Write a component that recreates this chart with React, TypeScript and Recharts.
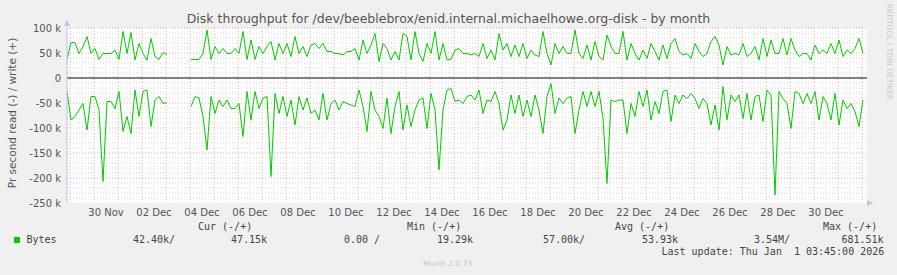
import { LineChart, Line, XAxis, YAxis, CartesianGrid, ReferenceLine } from 'recharts';

// Munin "disk throughput - by month" for /dev/beeblebrox/enid
// one sample per 4h, values in kB/s. read is drawn below zero (munin -/+ style)

const TITLE = 'Disk throughput for /dev/beeblebrox/enid.internal.michaelhowe.org-disk - by month';

// days relative to 30 Nov 00:00
const START_DAY = -1.125;
const STEP_DAY = 1 / 6;
const DOMAIN: [number, number] = [-1.125, 32.208];

const DAY_LABELS = [
  '30 Nov', '02 Dec', '04 Dec', '06 Dec', '08 Dec', '10 Dec', '12 Dec', '14 Dec',
  '16 Dec', '18 Dec', '20 Dec', '22 Dec', '24 Dec', '26 Dec', '28 Dec', '30 Dec',
];
// each label sits at noon of its day
const LABEL_DAYS = [0.5, 2.5, 4.5, 6.5, 8.5, 10.5, 12.5, 14.5, 16.5, 18.5, 20.5, 22.5, 24.5, 26.5, 28.5, 30.5];

const Y_TICKS = [-250, -200, -150, -100, -50, 0, 50, 100];

const writeK: (number | null)[] = [
  37, 71, 71, 49, 63, 83, 49, 59, 37, 49,
  49, 49, 56, 37, 93, 49, 91, 36, 69, 49,
  36, 79, 43, 37, 51, 47, null, null, null, null,
  null, 37, 37, 37, 49, 96, 37, 63, 49, 59,
  49, 49, 59, 49, 93, 37, 76, 37, 63, 49,
  63, 73, 36, 69, 49, 69, 43, 83, 49, 63,
  43, 66, 69, 59, 69, 53, 53, 49, 49, 46,
  53, 53, 59, 36, 76, 49, 66, 89, 33, 69,
  59, 36, 53, 36, 89, 83, 36, 93, 49, 33,
  69, 49, 93, 36, 69, 36, 37, 56, 59, 49,
  49, 46, 49, 43, 69, 39, 56, 36, 89, 56,
  69, 43, 66, 43, 69, 39, 56, 46, 43, 93,
  49, 26, 69, 49, 63, 49, 49, 96, 49, 39,
  66, 36, 73, 43, 36, 86, 63, 49, 49, 93,
  36, 69, 49, 36, 56, 39, 69, 53, 36, 66,
  39, 69, 79, 53, 46, 49, 39, 69, 53, 43,
  49, 73, 83, 66, 26, 63, 46, 49, 46, 69,
  43, 49, 63, 36, 79, 43, 76, 49, 49, 79,
  46, 79, 56, 43, 49, 49, 36, 66, 49, 56,
  49, 69, 49, 76, 43, 56, 49, 59, 79, 49,
];

const readK: (number | null)[] = [
  27, 84, 77, 64, 51, 104, 37, 37, 64, 207,
  47, 47, 61, 27, 107, 77, 111, 24, 77, 27,
  24, 97, 44, 37, 51, 49, null, null, null, null,
  null, 57, 37, 40, 77, 144, 37, 71, 44, 57,
  44, 61, 61, 51, 117, 27, 84, 27, 61, 40,
  37, 197, 31, 71, 37, 77, 44, 94, 37, 64,
  40, 71, 64, 84, 31, 84, 51, 44, 64, 47,
  51, 54, 57, 24, 57, 107, 27, 64, 77, 101,
  40, 111, 57, 27, 104, 54, 97, 64, 44, 40,
  101, 31, 64, 184, 64, 24, 21, 47, 44, 51,
  37, 34, 44, 24, 71, 44, 47, 27, 51, 104,
  84, 34, 71, 34, 77, 44, 77, 34, 64, 111,
  37, 11, 71, 40, 51, 40, 37, 111, 64, 27,
  57, 27, 57, 27, 81, 211, 44, 47, 44, 44,
  111, 51, 77, 27, 57, 24, 84, 47, 71, 27,
  24, 87, 34, 51, 34, 41, 31, 41, 61, 41,
  51, 94, 54, 104, 17, 84, 34, 47, 34, 81,
  31, 84, 37, 34, 87, 24, 34, 234, 27, 41,
  51, 101, 27, 31, 51, 31, 51, 27, 84, 37,
  51, 84, 31, 94, 44, 61, 51, 67, 97, 44,
];

const data = writeK.map((w, i) => ({
  t: START_DAY + i * STEP_DAY,
  write: w,
  read: readK[i] == null ? null : -(readK[i] as number),
}));

// grid positions (axis values, not data)
const majorDays: number[] = [];
const minorDays: number[] = [];
for (let d = -1; d <= 32; d++) {
  majorDays.push(d);
  minorDays.push(d + 0.5);
}
const majorK = [-200, -150, -100, -50, 50];
const minorK: number[] = [];
for (let v = -240; v < 100; v += 10) {
  if (v % 50 !== 0) minorK.push(v);
}

const GREEN = '#00cc00';
const AXIS_TEXT = '#555';
const MONO = '"DejaVu Sans Mono", monospace';
const SANS = '"DejaVu Sans", sans-serif';

function T({ x, y, children, style }: { x: number; y: number; children: any; style?: any }) {
  return (
    <div
      style={{
        position: 'absolute',
        left: x,
        top: y,
        transform: 'translateY(-50%)',
        lineHeight: 1,
        whiteSpace: 'pre',
        fontFamily: MONO,
        fontSize: 10,
        color: '#444',
        ...style,
      }}
    >
      {children}
    </div>
  );
}

export default function App() {
  return (
    <div style={{ position: 'absolute', left: 0, top: 0, width: 897, height: 275, background: '#f0f0f0', overflow: 'hidden' }}>
      <LineChart width={897} height={275} data={data} margin={{ top: 28, right: 30, left: 7, bottom: 52 }}>
        <CartesianGrid xAxisId="d" fill="#ffffff" horizontal={false} vertical={false} />
        <XAxis
          xAxisId="d"
          dataKey="t"
          type="number"
          domain={DOMAIN}
          allowDataOverflow
          ticks={majorDays}
          tick={false}
          tickSize={3}
          tickLine={{ stroke: '#f08080' }}
          axisLine={{ stroke: '#c0c0ec' }}
          height={0}
        />
        <XAxis
          xAxisId="t"
          dataKey="t"
          type="number"
          domain={DOMAIN}
          allowDataOverflow
          ticks={LABEL_DAYS}
          tickFormatter={(v: number) => DAY_LABELS[LABEL_DAYS.indexOf(v)] ?? ''}
          tick={{ fill: AXIS_TEXT, fontSize: 10, fontFamily: SANS }}
          tickLine={false}
          axisLine={false}
          tickSize={0}
          tickMargin={6}
          interval={0}
          height={20}
        />
        <YAxis
          type="number"
          domain={[-250, 100]}
          ticks={Y_TICKS}
          interval={0}
          tickFormatter={(v: number) => (v === 0 ? '0' : `${v} k`)}
          tick={{ fill: AXIS_TEXT, fontSize: 10, fontFamily: SANS }}
          tickLine={false}
          tickSize={0}
          tickMargin={6}
          axisLine={{ stroke: '#c0c0ec' }}
          width={60}
        />
        {minorDays.map((d) => (
          <ReferenceLine key={`vm${d}`} xAxisId="t" x={d} stroke="#d8d8d8" strokeDasharray="1 2" ifOverflow="hidden" />
        ))}
        {minorK.map((v) => (
          <ReferenceLine key={`hm${v}`} xAxisId="t" y={v} stroke="#d8d8d8" strokeDasharray="1 2" />
        ))}
        {majorDays.map((d) => (
          <ReferenceLine key={`vM${d}`} xAxisId="t" x={d} stroke="#f0a8a8" strokeDasharray="1 2" ifOverflow="hidden" />
        ))}
        {majorK.map((v) => (
          <ReferenceLine key={`hM${v}`} xAxisId="t" y={v} stroke="#f0a8a8" strokeDasharray="1 2" />
        ))}
        <ReferenceLine xAxisId="t" y={100} stroke="#f0a8a8" strokeDasharray="1 2" />
        <ReferenceLine xAxisId="t" y={0} stroke="#000000" />
        <Line xAxisId="t" type="linear" dataKey="write" stroke={GREEN} strokeWidth={1} dot={false} activeDot={false} connectNulls={false} isAnimationActive={false} />
        <Line xAxisId="t" type="linear" dataKey="read" stroke={GREEN} strokeWidth={1} dot={false} activeDot={false} connectNulls={false} isAnimationActive={false} />
      </LineChart>

      {/* axis arrows */}
      <svg width={897} height={275} style={{ position: 'absolute', left: 0, top: 0, pointerEvents: 'none' }}>
        <polygon points="64,26 70,26 67,20" fill="#c0c0ec" />
        <polygon points="867,200 867,206 873,203" fill="#c0c0ec" />
      </svg>

      <div style={{ position: 'absolute', left: 0, width: 897, top: 19, transform: 'translateY(-50%)', textAlign: 'center', fontFamily: SANS, fontSize: 12.5, color: '#555', lineHeight: 1 }}>
        {TITLE}
      </div>
      <div
        style={{
          position: 'absolute', left: 12, top: 113, transform: 'translate(-50%, -50%) rotate(-90deg)',
          fontFamily: SANS, fontSize: 10.5, color: '#555', whiteSpace: 'nowrap', lineHeight: 1,
        }}
      >
        Pr second read (-) / write (+)
      </div>
      <div
        style={{
          position: 'absolute', left: 889, top: 52, transform: 'translate(-50%, -50%) rotate(90deg)',
          fontFamily: SANS, fontSize: 7.5, color: '#c8c8c8', whiteSpace: 'nowrap', lineHeight: 1,
        }}
      >
        RRDTOOL / TOBI OETIKER
      </div>

      <T x={198} y={227}>Cur (-/+)</T>
      <T x={407} y={227}>Min (-/+)</T>
      <T x={615} y={227}>Avg (-/+)</T>
      <T x={823} y={227}>Max (-/+)</T>

      <div style={{ position: 'absolute', left: 14, top: 237, width: 6, height: 6, background: GREEN }} />
      <T x={26.5} y={239.5}>Bytes</T>
      <T x={133} y={239.5}>42.40k/</T>
      <T x={231} y={239.5}>47.15k</T>
      <T x={344} y={239.5}>0.00 /</T>
      <T x={437} y={239.5}>19.29k</T>
      <T x={543} y={239.5}>57.00k/</T>
      <T x={642} y={239.5}>53.93k</T>
      <T x={754} y={239.5}>3.54M/</T>
      <T x={841.5} y={239.5}>681.51k</T>
      <T x={661.5} y={252}>Last update: Thu Jan  1 03:45:00 2026</T>

      <T x={423} y={263.5} style={{ fontFamily: SANS, fontSize: 7.5, color: '#c8c8c8' }}>Munin 2.0.73</T>
    </div>
  );
}
